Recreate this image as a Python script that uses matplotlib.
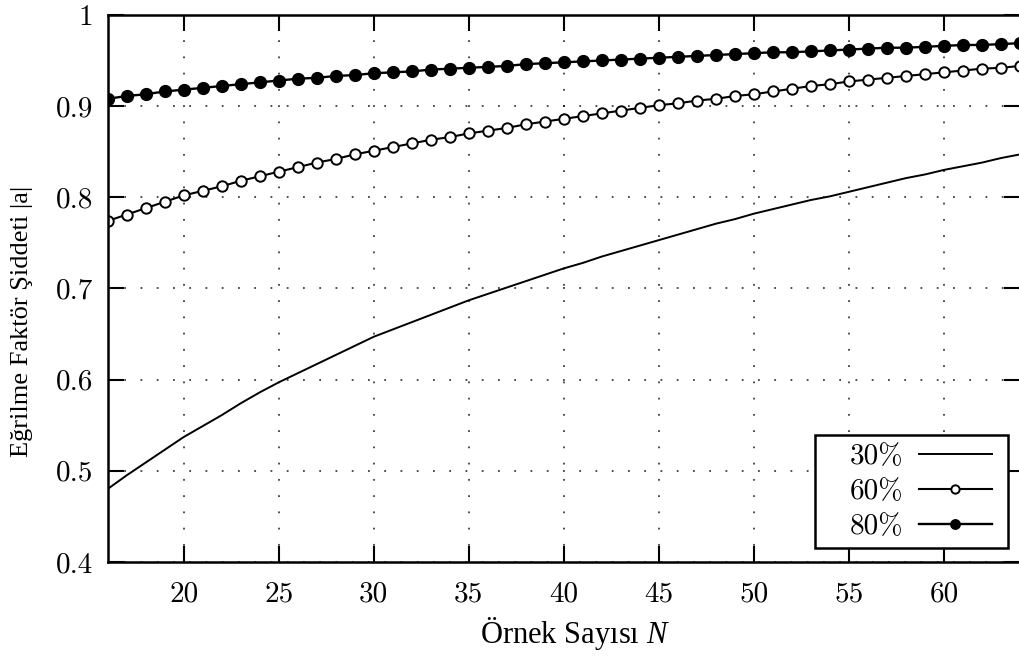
import matplotlib
matplotlib.use("Agg")
import matplotlib.pyplot as plt
from matplotlib.patches import Rectangle

# sample sizes N (every integer from 16 to 64)
N = list(range(16, 65))

# 30% curve (plain line)
p30 = [0.480, 0.495, 0.509, 0.523, 0.537, 0.549, 0.561, 0.574, 0.586, 0.597,
       0.607, 0.617, 0.627, 0.637, 0.647, 0.655, 0.663, 0.671, 0.679, 0.687,
       0.694, 0.701, 0.708, 0.715, 0.722, 0.728, 0.735, 0.741, 0.747, 0.753,
       0.759, 0.765, 0.771, 0.776, 0.782, 0.787, 0.792, 0.797, 0.801, 0.806,
       0.811, 0.816, 0.821, 0.825, 0.830, 0.834, 0.838, 0.843, 0.847]

# 60% curve (open circles)
p60 = [0.774, 0.781, 0.788, 0.795, 0.802, 0.807, 0.812, 0.818, 0.823, 0.828,
       0.833, 0.838, 0.842, 0.847, 0.851, 0.855, 0.859, 0.863, 0.866, 0.870,
       0.873, 0.876, 0.880, 0.883, 0.886, 0.889, 0.892, 0.895, 0.898, 0.901,
       0.903, 0.906, 0.908, 0.911, 0.913, 0.916, 0.919, 0.922, 0.924, 0.927,
       0.929, 0.931, 0.933, 0.935, 0.937, 0.939, 0.941, 0.942, 0.944]

# 80% curve (filled circles)
p80 = [0.908, 0.911, 0.913, 0.916, 0.918, 0.920, 0.922, 0.924, 0.926, 0.928,
       0.930, 0.931, 0.933, 0.934, 0.936, 0.937, 0.938, 0.940, 0.941, 0.942,
       0.943, 0.944, 0.946, 0.947, 0.948, 0.949, 0.950, 0.951, 0.952, 0.953,
       0.954, 0.955, 0.956, 0.957, 0.958, 0.959, 0.959, 0.960, 0.961, 0.962,
       0.963, 0.964, 0.964, 0.965, 0.966, 0.967, 0.967, 0.968, 0.969]

labels = ["30%", "60%", "80%"]
xticks = [20, 25, 30, 35, 40, 45, 50, 55, 60]
xtick_labels = ["20", "25", "30", "35", "40", "45", "50", "55", "60"]
yticks = [0.4, 0.5, 0.6, 0.7, 0.8, 0.9, 1.0]
ytick_labels = ["0.4", "0.5", "0.6", "0.7", "0.8", "0.9", "1"]

plt.rcParams["mathtext.fontset"] = "custom"
plt.rcParams["mathtext.it"] = "Liberation Serif:italic"
plt.rcParams["mathtext.rm"] = "Liberation Serif"

fig = plt.figure(figsize=(10.2, 6.56), dpi=100)
ax = fig.add_axes([0.1055, 0.1433, 0.8945, 0.834])

ax.plot(N, p30, color="black", lw=1.4, label=labels[0])
ax.plot(N, p60, color="black", lw=1.5, marker="o", ms=7.5, mfc="white",
        mec="black", mew=1.4, label=labels[1])
ax.plot(N, p80, color="black", lw=1.7, marker="o", ms=8.5, mfc="black",
        mec="black", label=labels[2])

ax.set_xlim(16, 64)
ax.set_ylim(0.4, 1.0)
ax.set_xticks(xticks)
ax.set_xticklabels(xtick_labels)
ax.set_yticks(yticks)
ax.set_yticklabels(ytick_labels)

ax.tick_params(direction="in", length=11.5, width=1.5, top=True, right=True,
               labelsize=21)
ax.tick_params(axis="x", pad=14)
ax.tick_params(axis="y", pad=10.5)
for lab in ax.get_xticklabels() + ax.get_yticklabels():
    lab.set_fontfamily("cmr10")

for sp in ax.spines.values():
    sp.set_linewidth(1.8)

ax.grid(True, color="black", lw=1.3, linestyle=(0, (1, 8)), alpha=0.75)

# legend box drawn separately (wider left margin than matplotlib gives)
box = Rectangle((0.775, 0.0256), 0.212, 0.2064, transform=ax.transAxes,
                facecolor="white", edgecolor="black", lw=1.8, zorder=4.5)
ax.add_patch(box)
leg = ax.legend(loc="center right", bbox_to_anchor=(0.969, 0.128),
                borderaxespad=0, borderpad=0, markerfirst=False,
                frameon=False, handlelength=2.5, handletextpad=0.55,
                labelspacing=0.3, markerscale=0.8,
                prop={"family": "cmr10", "size": 21})
leg.set_zorder(5)

fig.text(575 / 1020, 1 - 634 / 656, "Örnek Sayısı $N$", ha="center",
         va="center", fontsize=22, family="Liberation Serif")
fig.text(22 / 1020, 1 - 321 / 656, "Eğrilme Faktör Şiddeti |a|", ha="center",
         va="center", rotation=90, fontsize=19, family="Liberation Serif")

fig.savefig("out.png", dpi=100)
